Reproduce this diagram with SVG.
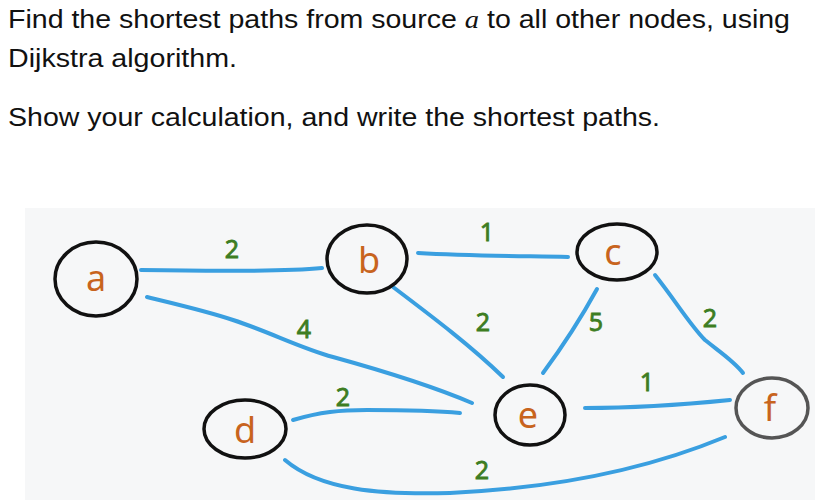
<svg xmlns="http://www.w3.org/2000/svg" width="815" height="500" viewBox="0 0 815 500">
<style>
.q{font-family:"Liberation Sans","Noto Sans",sans-serif;font-size:26px;fill:#111}
.node ellipse{fill:none;stroke:#111;stroke-width:3.5}
.node text{font-family:"Noto Sans","DejaVu Sans",sans-serif;font-size:36px;fill:#c8641e;text-anchor:middle}
.edge path{fill:none;stroke:#3a9fe0;stroke-width:4;stroke-linecap:round}
.w{font-family:"Noto Sans","DejaVu Sans",sans-serif;font-size:25px;fill:#3d7d22;text-anchor:middle;stroke:#3d7d22;stroke-width:0.8}
</style>
<rect width="815" height="500" fill="#fff"/>
<rect x="25" y="208" width="790" height="292" fill="#f6f7f8"/>
<text class="q" x="8" y="28" textLength="782" lengthAdjust="spacingAndGlyphs">Find the shortest paths from source <tspan font-family="Liberation Serif,serif" font-style="italic">a</tspan> to all other nodes, using</text>
<text class="q" x="8" y="67" textLength="229" lengthAdjust="spacingAndGlyphs">Dijkstra algorithm.</text>
<text class="q" x="8" y="126" textLength="652" lengthAdjust="spacingAndGlyphs">Show your calculation, and write the shortest paths.</text>
<g id="connectors" class="edge">
<path d="M141,270 C200,271 280,272 322,268"/>
<path d="M147,297 C180,305 210,312 233,320 C270,332 300,348 333,357 C380,370 430,385 472,403"/>
<path d="M293,420 C320,412 340,410 367,410 C400,410 430,410 460,413"/>
<path d="M285,460 C320,490 380,495 450,493 C560,488 650,468 725,437"/>
<path d="M393,287 C430,315 470,345 503,377"/>
<path d="M418,253 C470,256 520,256 568,257"/>
<path d="M597,289 C580,320 560,350 543,373"/>
<path d="M655,275 C675,300 690,325 705,340 C720,352 735,362 743,373"/>
<path d="M585,408 C630,408 690,404 730,400"/>
</g>
<g id="weights">
<text class="w" x="232" y="258">2</text>
<text class="w" x="304" y="338">4</text>
<text class="w" x="343" y="406">2</text>
<text class="w" x="482" y="479">2</text>
<text class="w" x="483" y="331">2</text>
<text class="w" x="487" y="241">1</text>
<text class="w" x="596" y="331">5</text>
<text class="w" x="710" y="327">2</text>
<text class="w" x="647" y="391">1</text>
</g>
<g id="node-a" class="node"><ellipse cx="96" cy="279" rx="41" ry="37"/><text x="96" y="291">a</text></g>
<g id="node-b" class="node"><ellipse cx="367" cy="259" rx="40" ry="34"/><text x="369" y="273">b</text></g>
<g id="node-c" class="node"><ellipse cx="617" cy="252" rx="40" ry="28"/><text x="613" y="265">c</text></g>
<g id="node-d" class="node"><ellipse cx="245" cy="429" rx="41" ry="29"/><text x="245" y="443">d</text></g>
<g id="node-e" class="node"><ellipse cx="530" cy="415" rx="35" ry="30"/><text x="528" y="428">e</text></g>
<g id="node-f" class="node"><ellipse cx="772" cy="408" rx="36" ry="30" style="stroke:#555"/><text x="770" y="421">f</text></g>
</svg>
